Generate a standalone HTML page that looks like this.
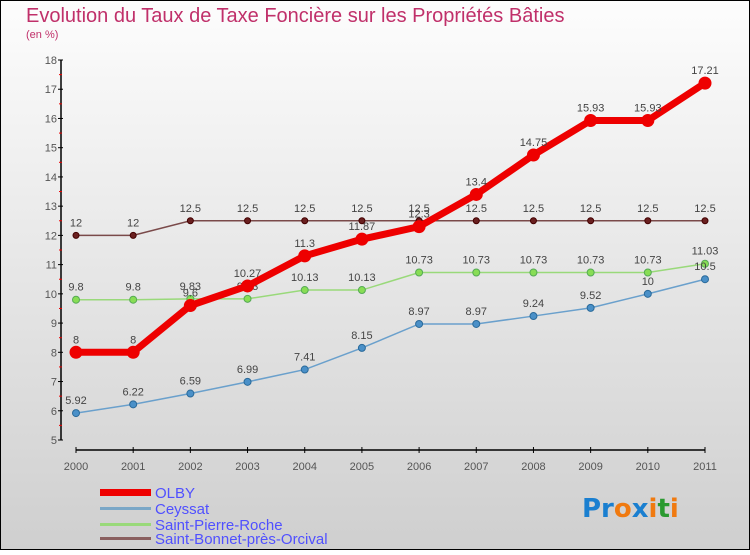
<!DOCTYPE html>
<html><head><meta charset="utf-8"><style>
body{margin:0;width:750px;height:550px;overflow:hidden;font-family:"Liberation Sans",sans-serif}
</style></head><body>
<svg id="c" width="750" height="550" xmlns="http://www.w3.org/2000/svg">
<defs><linearGradient id="bg" x1="0" y1="0" x2="0" y2="1"><stop offset="0" stop-color="#fdfdfd"/><stop offset="1" stop-color="#cfcfcf"/></linearGradient></defs>
<rect x="0.5" y="0.5" width="749" height="549" fill="url(#bg)" stroke="#000"/>
<text x="26" y="22" font-size="20" fill="#c0306a">Evolution du Taux de Taxe Foncière sur les Propriétés Bâties</text>
<text x="26" y="38" font-size="11" fill="#c0306a">(en %)</text>
<g id="axes"></g><g id="series"></g>
<g>
<rect x="100" y="489" width="51" height="7" fill="#e00"/>
<text x="155" y="498" font-size="15" fill="#5050ff">OLBY</text>
<rect x="100" y="507" width="51" height="3" fill="#7aa7c7"/>
<text x="155" y="514" font-size="15" fill="#5050ff">Ceyssat</text>
<rect x="100" y="523" width="51" height="3" fill="#99d97a"/>
<text x="155" y="530" font-size="15" fill="#5050ff">Saint-Pierre-Roche</text>
<rect x="100" y="537" width="51" height="3" fill="#8a6060"/>
<text x="155" y="544" font-size="15" fill="#5050ff">Saint-Bonnet-près-Orcival</text>
</g>
<text x="582" y="517" font-size="26" font-weight="bold" font-family="'DejaVu Sans',sans-serif"><tspan fill="#1a7fd0">Pr</tspan><tspan fill="#f07a10">o</tspan><tspan fill="#1a7fd0">x</tspan><tspan fill="#f07a10">i</tspan><tspan fill="#2a9a30">t</tspan><tspan fill="#f07a10">i</tspan></text>
</svg>
<script>
const years=[2000,2001,2002,2003,2004,2005,2006,2007,2008,2009,2010,2011];
const yTicks=[5,6,7,8,9,10,11,12,13,14,15,16,17,18];
const olby=[8,8,9.6,10.27,11.3,11.87,12.3,13.4,14.75,15.93,15.93,17.21];
const ceyssat=[5.92,6.22,6.59,6.99,7.41,8.15,8.97,8.97,9.24,9.52,10,10.5];
const stPierre=[9.8,9.8,9.83,9.83,10.13,10.13,10.73,10.73,10.73,10.73,10.73,11.03];
const stBonnet=[12,12,12.5,12.5,12.5,12.5,12.5,12.5,12.5,12.5,12.5,12.5];
const NS="http://www.w3.org/2000/svg";
const X=i=>76+i*(705-76)/(years.length-1);
const Y=v=>440-(v-5)*(380/13);
function el(t,a,p){const e=document.createElementNS(NS,t);for(const k in a)e.setAttribute(k,a[k]);p.appendChild(e);return e;}
const ax=document.getElementById('axes'),sg=document.getElementById('series');
let l=el('line',{x1:61,y1:Y(18),x2:61,y2:440,stroke:'#000','stroke-width':1.5},ax);


l=el('line',{x1:76,y1:450,x2:705,y2:450,stroke:'#000','stroke-width':1.5},ax);


yTicks.forEach(v=>{
 el('line',{x1:58,y1:Y(v),x2:63,y2:Y(v),stroke:'#000'},ax);
 if(v<18)el('line',{x1:59,y1:Y(v+0.5),x2:62,y2:Y(v+0.5),stroke:'#e00'},ax);
 const t=el('text',{x:57,y:Y(v)+4,'font-size':11,fill:'#555','text-anchor':'end'},ax);t.textContent=v;
 
 
});
years.forEach((yr,i)=>{
 el('line',{x1:X(i),y1:447,x2:X(i),y2:453,stroke:'#000'},ax);
 const t=el('text',{x:X(i),y:470,'font-size':11,fill:'#555','text-anchor':'middle'},ax);t.textContent=yr;
 
 
});
function series(d,name,col,w,r,fill,stroke){
 const g=el('g',{},sg);
 
 
 const p=el('polyline',{points:d.map((v,i)=>X(i)+','+Y(v)).join(' '),fill:'none',stroke:col,'stroke-width':w},g);
 
 
 d.forEach((v,i)=>{
  const c=el('circle',{cx:X(i),cy:Y(v),r:r,fill:fill,stroke:stroke,'stroke-width':1},g);
  
  
  const t=el('text',{x:X(i),y:Y(v)-9,'font-size':11,fill:'#444','text-anchor':'middle'},g);t.textContent=v;
  
  
 });
}
series(stBonnet,'saint-bonnet','#7a4a4a',1.5,3,'#6a2020','#400');
series(stPierre,'saint-pierre-roche','#99d97a',1.5,3.5,'#88dd55','#5a5');
series(ceyssat,'ceyssat','#6aa0cc',1.5,3.5,'#4a90c8','#2a6a9a');
series(olby,'olby','#ee0000',7,6,'#ee0000','#ee0000');
</script>
</body></html>
